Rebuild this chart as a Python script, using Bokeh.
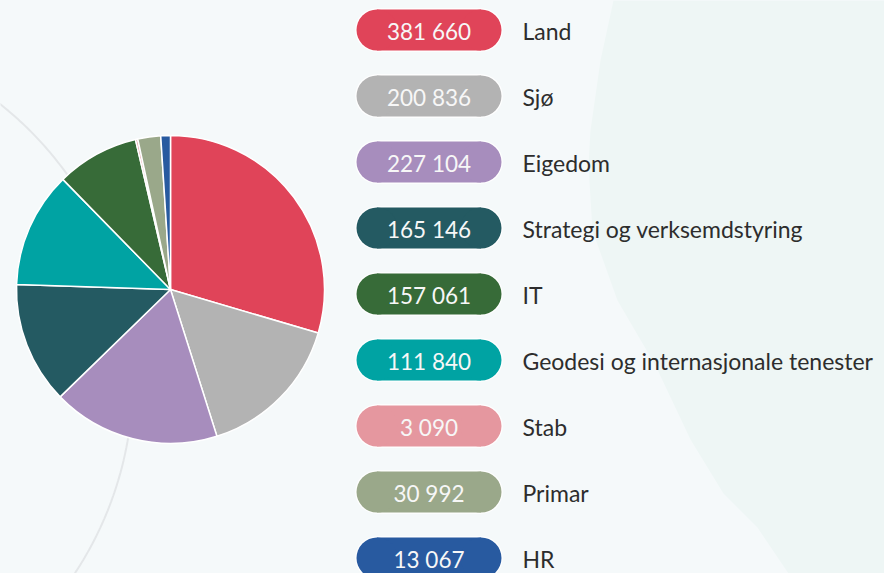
import numpy as np
from bokeh.plotting import figure
from bokeh.models import ColumnDataSource, Range1d
from bokeh.core.properties import value
from bokeh.embed import file_html
from bokeh.resources import INLINE

# ---------------- data ----------------
categories = ["Land", "Sjø", "Eigedom", "Strategi og verksemdstyring", "IT",
              "Geodesi og internasjonale tenester", "Stab", "Primar", "HR"]
values = [381660, 200836, 227104, 165146, 157061, 111840, 3090, 30992, 13067]
legend_colors = ["#e04459", "#b3b3b3", "#a78dbd", "#245a62", "#376b38",
                 "#00a3a3", "#e5979f", "#9aa88a", "#285aa0"]
# colours of the pie slices as drawn (slices follow the legend order)
slice_colors = ["#e04459", "#b3b3b3", "#a78dbd", "#245a62", "#00a3a3",
                "#376b38", "#e5979f", "#9aa88a", "#285aa0"]

# ---------------- layout ----------------
W, H = 884, 573
BG = "#f5f9fa"
MINT = "#eef6f5"
FONT = "Lato"

p = figure(width=W, height=H, x_range=Range1d(0, W), y_range=Range1d(0, H),
           output_backend="svg", toolbar_location=None, min_border=0)
p.axis.visible = False
p.grid.visible = False
p.outline_line_color = None
p.background_fill_color = BG
p.border_fill_color = BG

def Y(py):
    return H - np.asarray(py, dtype=float)

# decorative mint shape on the right
mx = [613, 600, 590, 588, 592, 617, 655, 690, 723, 757, 788, W, W]
my = [0, 60, 130, 165, 230, 300, 365, 439, 493, 527, 573, 573, 0]
p.patch(mx, list(Y(my)), fill_color=MINT, line_color=None)

# decorative grey arc behind pie
cxa, cya, ra = -219.5, 379.0, 352.0
th = np.linspace(-1.0, 0.75, 200)
p.line(cxa + ra * np.cos(th), Y(cya + ra * np.sin(th)), line_color="#e4e7e9", line_width=2)

# ---------------- pie ----------------
vals = np.array(values, dtype=float)
frac = vals / vals.sum()
cum = np.cumsum(frac)
prev = np.concatenate([[0.0], cum[:-1]])
pie = ColumnDataSource(dict(
    start=np.pi / 2 - 2 * np.pi * prev,
    end=np.pi / 2 - 2 * np.pi * cum,
    color=slice_colors,
))
cx, cy, R = 170, float(Y(289)), 154
p.wedge(x=cx, y=cy, radius=R, start_angle="start", end_angle="end",
        direction="clock", fill_color="color", line_color="white",
        line_width=1.5, source=pie)

# ---------------- legend pills ----------------
n = len(categories)
row_y = Y(29.5 + 66 * np.arange(n))
left, right = 356.0, 501.0
hh = 20.5
labels = [f"{v:,}".replace(",", " ") for v in values]
src = ColumnDataSource(dict(y=row_y, color=legend_colors, lab=labels, cat=categories,
                            xl=[left + hh] * n, xr=[right - hh] * n))
# white outline
p.hbar(y="y", height=2 * hh + 2.5, left="xl", right="xr", fill_color="white",
       line_color=None, source=src)
p.circle(x="xl", y="y", radius=hh + 1.25, fill_color="white", line_color=None, source=src)
p.circle(x="xr", y="y", radius=hh + 1.25, fill_color="white", line_color=None, source=src)
# coloured pill
p.hbar(y="y", height=2 * hh, left="xl", right="xr", fill_color="color",
       line_color=None, source=src)
p.circle(x="xl", y="y", radius=hh, fill_color="color", line_color=None, source=src)
p.circle(x="xr", y="y", radius=hh, fill_color="color", line_color=None, source=src)

src2 = ColumnDataSource(dict(y=row_y - 1, xc=[(left + right) / 2] * n, lab=labels,
                             xt=[522] * n, cat=categories))
p.text(x="xc", y="y", text="lab", text_align="center", text_baseline="middle",
       text_color="#f7f7f7", text_font=value(FONT), text_font_size="22.5px", source=src2)
p.text(x="xt", y="y", text="cat", text_align="left", text_baseline="middle",
       text_color="#2d2d2d", text_font=value(FONT), text_font_size="23px", source=src2)

html = file_html(p, INLINE)
style = "<style>html,body{margin:0;padding:0;background:%s;overflow:hidden;}</style>" % BG
html = html.replace("</head>", style + "</head>", 1)
open("out.html", "w").write(html)
